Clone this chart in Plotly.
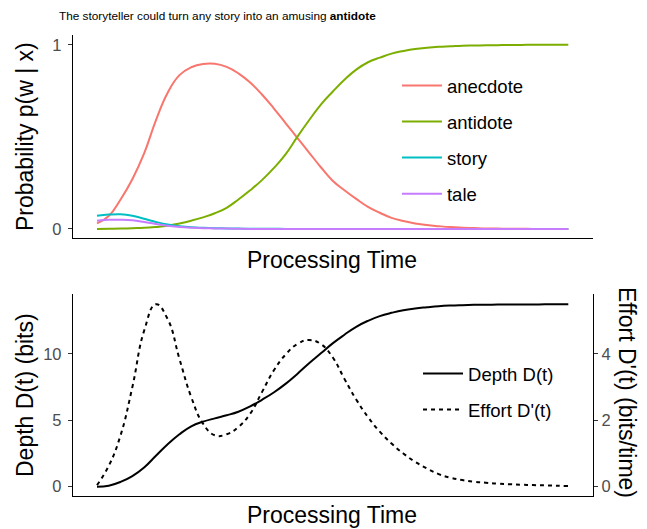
import plotly.graph_objects as go

# ---------------- data ----------------
time = [i * 0.25 for i in range(41)]  # processing time grid, 0 .. 10

anecdote = [0.03, 0.07, 0.16, 0.27, 0.41, 0.59, 0.74, 0.835, 0.878, 0.896, 0.897, 0.88, 0.845,
            0.795, 0.73, 0.655, 0.575, 0.495, 0.415, 0.335, 0.262, 0.21, 0.163, 0.12, 0.088,
            0.06, 0.043, 0.03, 0.021, 0.015, 0.01, 0.007, 0.005, 0.003, 0.002, 0.001, 0.001,
            0.0, 0.0, 0.0, 0.0]
antidote = [0.0, 0.001, 0.002, 0.004, 0.006, 0.011, 0.018, 0.03, 0.045, 0.063, 0.085, 0.115,
            0.16, 0.21, 0.265, 0.33, 0.405, 0.50, 0.59, 0.675, 0.745, 0.81, 0.865, 0.905, 0.93,
            0.952, 0.966, 0.977, 0.984, 0.989, 0.992, 0.995, 0.996, 0.997, 0.998, 0.999, 0.999,
            1.0, 1.0, 1.0, 1.0]
story = [0.072, 0.078, 0.08, 0.072, 0.055, 0.038, 0.024, 0.015, 0.009, 0.006, 0.004, 0.003,
         0.002, 0.001, 0.001, 0.001, 0.0, 0.0, 0.0, 0.0, 0.0, 0.0, 0.0, 0.0, 0.0, 0.0, 0.0,
         0.0, 0.0, 0.0, 0.0, 0.0, 0.0, 0.0, 0.0, 0.0, 0.0, 0.0, 0.0, 0.0, 0.0]
tale = [0.045, 0.05, 0.05, 0.047, 0.038, 0.027, 0.017, 0.011, 0.007, 0.004, 0.003, 0.002,
        0.001, 0.0, 0.0, 0.0, 0.0, 0.0, 0.0, 0.0, 0.0, 0.0, 0.0, 0.0, 0.0, 0.0, 0.0, 0.0,
        0.0, 0.0, 0.0, 0.0, 0.0, 0.0, 0.0, 0.0, 0.0, 0.0, 0.0, 0.0, 0.0]

depth = [0.0, 0.08, 0.36, 0.8, 1.45, 2.33, 3.2, 3.95, 4.55, 4.9, 5.15, 5.38, 5.65, 6.05,
         6.55, 7.1, 7.75, 8.5, 9.3, 10.05, 10.8, 11.45, 12.05, 12.5, 12.85, 13.1, 13.3, 13.43,
         13.52, 13.6, 13.65, 13.68, 13.7, 13.71, 13.72, 13.72, 13.73, 13.73, 13.74, 13.74,
         13.74]
effort = [0.05, 0.63, 1.55, 3.0, 4.7, 5.5, 5.05, 3.85, 2.7, 1.9, 1.55, 1.58, 1.8, 2.2, 2.85,
          3.5, 3.98, 4.3, 4.42, 4.3, 3.9, 3.25, 2.63, 2.1, 1.66, 1.3, 1.0, 0.75, 0.55, 0.38,
          0.27, 0.2, 0.15, 0.12, 0.09, 0.075, 0.06, 0.05, 0.04, 0.03, 0.02]

words = ["anecdote", "antidote", "story", "tale"]
word_probs = [anecdote, antidote, story, tale]
word_colors = ["#F8766D", "#7CAE00", "#00BFC4", "#C77CFF"]

title_text = "The storyteller could turn any story into an amusing <b>antidote</b>"

# ---------------- figure ----------------
FONT = "Liberation Sans, Arial, sans-serif"
SMOOTH = 1.3
fig = go.Figure()

for w, p, c in zip(words, word_probs, word_colors):
    fig.add_trace(go.Scatter(x=time, y=p, mode="lines", name=w, legendgroup=w,
                             line=dict(color=c, width=2, shape="spline", smoothing=SMOOTH),
                             xaxis="x", yaxis="y", legend="legend"))

fig.add_trace(go.Scatter(x=time, y=depth, mode="lines", name="Depth D(t)", legendgroup="d",
                         line=dict(color="black", width=2, shape="spline", smoothing=SMOOTH),
                         xaxis="x2", yaxis="y2", legend="legend2"))
fig.add_trace(go.Scatter(x=time, y=effort, mode="lines", name="Effort D'(t)", legendgroup="e",
                         line=dict(color="black", width=2, dash="4px,4px",
                                   shape="spline", smoothing=SMOOTH),
                         xaxis="x2", yaxis="y3", legend="legend2"))

xr = [-0.509, 10.524]
axis_common = dict(showline=True, linecolor="black", linewidth=1.3, showgrid=False,
                   zeroline=False, automargin=False)
xaxis_common = dict(axis_common, ticks="", showticklabels=False, range=xr)
yaxis_common = dict(axis_common, ticks="outside", ticklen=4, tickcolor="#333333",
                    tickwidth=1.2, tickfont=dict(size=16.5, color="#4D4D4D"))

top_dom = [0.5597, 1.0]
bot_dom = [0.0, 0.4382]

TITLE_FONT = dict(size=23, color="black")


def paper_x(px):
    return (px - 73) / 520


def paper_y(py):
    return 1 - (py - 35) / 461


annotations = [
    dict(text="Probability p(w | x)", textangle=-90, x=paper_x(25), y=paper_y(137)),
    dict(text="Depth D(t) (bits)", textangle=-90, x=paper_x(25), y=paper_y(395)),
    dict(text="Effort D'(t) (bits/time)", textangle=90, x=paper_x(627), y=paper_y(392)),
    dict(text="Processing Time", textangle=0, x=paper_x(332), y=paper_y(259.5)),
    dict(text="Processing Time", textangle=0, x=paper_x(332), y=paper_y(515)),
]
annotations = [dict(a, showarrow=False, xref="paper", yref="paper", xanchor="center",
                    yanchor="middle", font=TITLE_FONT) for a in annotations]

legend_common = dict(xanchor="left", yanchor="top", font=dict(size=18.5, color="black"),
                     bgcolor="rgba(0,0,0,0)", traceorder="grouped", tracegroupgap=9,
                     itemwidth=40)

fig.update_layout(
    width=639, height=521,
    margin=dict(l=65, r=54, t=27, b=33),
    plot_bgcolor="white", paper_bgcolor="white",
    font=dict(family=FONT, color="black"),
    title=dict(text=title_text, font=dict(size=11.8, color="black"),
               xref="container", x=51 / 639, xanchor="left",
               yref="container", y=1 - 7.5 / 521, yanchor="middle"),
    xaxis=dict(xaxis_common, domain=[0, 1], anchor="y"),
    yaxis=dict(yaxis_common, domain=top_dom, anchor="x", range=[-0.049, 1.053],
               tickvals=[0, 1], ticklabelstandoff=3),
    xaxis2=dict(xaxis_common, domain=[0, 1], anchor="y2"),
    yaxis2=dict(yaxis_common, domain=bot_dom, anchor="x2", range=[-0.70, 14.52],
                tickvals=[0, 5, 10], ticklabelstandoff=3),
    yaxis3=dict(yaxis_common, domain=bot_dom, anchor="x2", overlaying="y2", side="right",
                range=[-0.28, 5.808], tickvals=[0, 2, 4]),
    legend=dict(legend_common, x=0.623, y=0.9306),
    legend2=dict(legend_common, x=0.6635, y=0.3059),
    annotations=annotations,
)

fig.write_html("out.html")
